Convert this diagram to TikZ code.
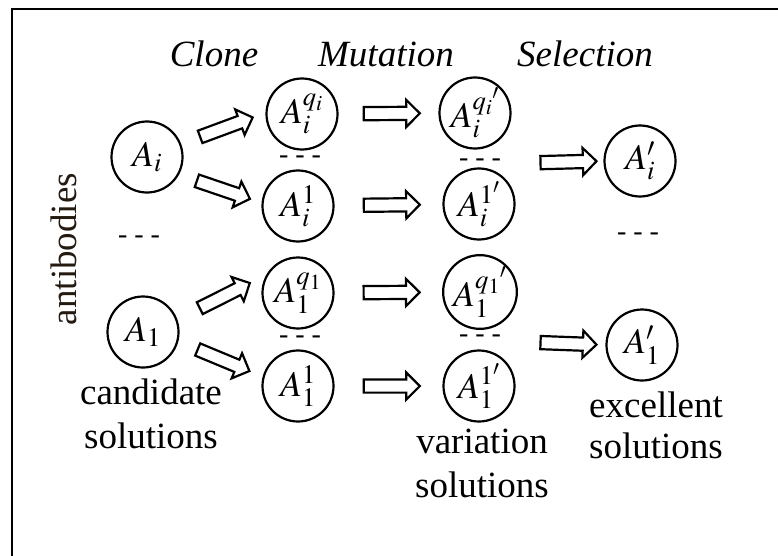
\documentclass[tikz,border=0pt]{standalone}
\usepackage{mathptmx}
\usepackage{fontspec}
\setmainfont{Liberation Serif}
\usetikzlibrary{shapes.arrows}
\definecolor{antcol}{RGB}{36,26,16}
\tikzset{
  antbody/.style={circle, draw, line width=2.2pt, minimum size=71pt, inner sep=0pt,
    font=\fontsize{36}{36}\selectfont},
  blockarrow/.style={single arrow, draw, fill=white, line width=2.2pt,
    minimum height=56pt, inner xsep=0pt, inner ysep=5.5pt,
    single arrow head extend=7pt, sloped, allow upside down},
  ttl/.style={font=\fontsize{37}{44}\selectfont\itshape, anchor=base},
  lbl/.style={font=\fontsize{37}{44}\selectfont, align=center, anchor=base},
  dots/.style={font=\fontsize{28}{28}\selectfont, inner sep=0pt}
}
\begin{document}
\begin{tikzpicture}[x=1pt, y=-1pt]
\useasboundingbox (0,0) rectangle (778,556);
% frame along the top and left edges
\draw[line width=2pt] (12,556) -- (12,9.5) -- (778,9.5);

% stage titles
\node[ttl] (tclone) at (214,67) {Clone};
\node[ttl] (tmut)   at (386,67) {Mutation};
\node[ttl] (tsel)   at (585,67) {Selection};

% side label
\node[rotate=90, font=\fontsize{37}{44}\selectfont, text=antcol] (anti) at (64,249) {antibodies};

% candidate antibodies
\node[antbody] (ai) at (147,157) {$A_i$};
\node[antbody] (a1) at (143,332) {$A_1$};
\node[dots] (dl) at (139,240) {- - -};

% clones
\node[antbody] (ci1) at (302,114) {$A_i^{q_i}$};
\node[antbody] (ci2) at (298,206) {$A_i^{1}$};
\node[antbody] (c11) at (298,293) {$A_1^{q_1}$};
\node[antbody] (c12) at (298,386) {$A_1^{1}$};
\node[dots] (dc1) at (300,160) {- - -};
\node[dots] (dc2) at (300,340) {- - -};

% mutated clones
\node[antbody] (mi1) at (475,113) {$A_i^{q_i{}'}$};
\node[antbody] (mi2) at (479,204) {$A_i^{1'}$};
\node[antbody] (m11) at (480,292) {$A_1^{q_1{}'}$};
\node[antbody] (m12) at (479,386) {$A_1^{1'}$};
\node[dots] (dm1) at (480,163) {- - -};
\node[dots] (dm2) at (480,339) {- - -};

% selected antibodies
\node[antbody] (si) at (640,161) {$A_i'$};
\node[antbody] (s1) at (642,345) {$A_1'$};
\node[dots] (ds) at (638,237) {- - -};

% captions (anchored at the baseline of their last line)
\node[lbl] (cand) at (151,448) {candidate\\solutions};
\node[lbl] (vari) at (482,497) {variation\\solutions};
\node[lbl] (exce) at (656,458) {excellent\\[-3pt]solutions};

% clone arrows
\path (ai.21)  -- node[blockarrow] {} (ci1.178);
\path (ai.-29) -- node[blockarrow] {} (ci2.175);
\path (a1.20)  -- node[blockarrow] {} (c11.150);
\path (a1.-15) -- node[blockarrow] {} (c12.165);

% mutation arrows
\path (ci1) -- node[blockarrow] {} (mi1);
\path (ci2) -- node[blockarrow] {} (mi2);
\path (c11) -- node[blockarrow] {} (m11);
\path (c12) -- node[blockarrow] {} (m12);

% selection arrows
\coordinate (gi) at (527,163);
\coordinate (g1) at (525,342);
\path (gi) -- node[blockarrow] {} (si.west);
\path (g1) -- node[blockarrow] {} (s1.west);
\end{tikzpicture}
\end{document}
